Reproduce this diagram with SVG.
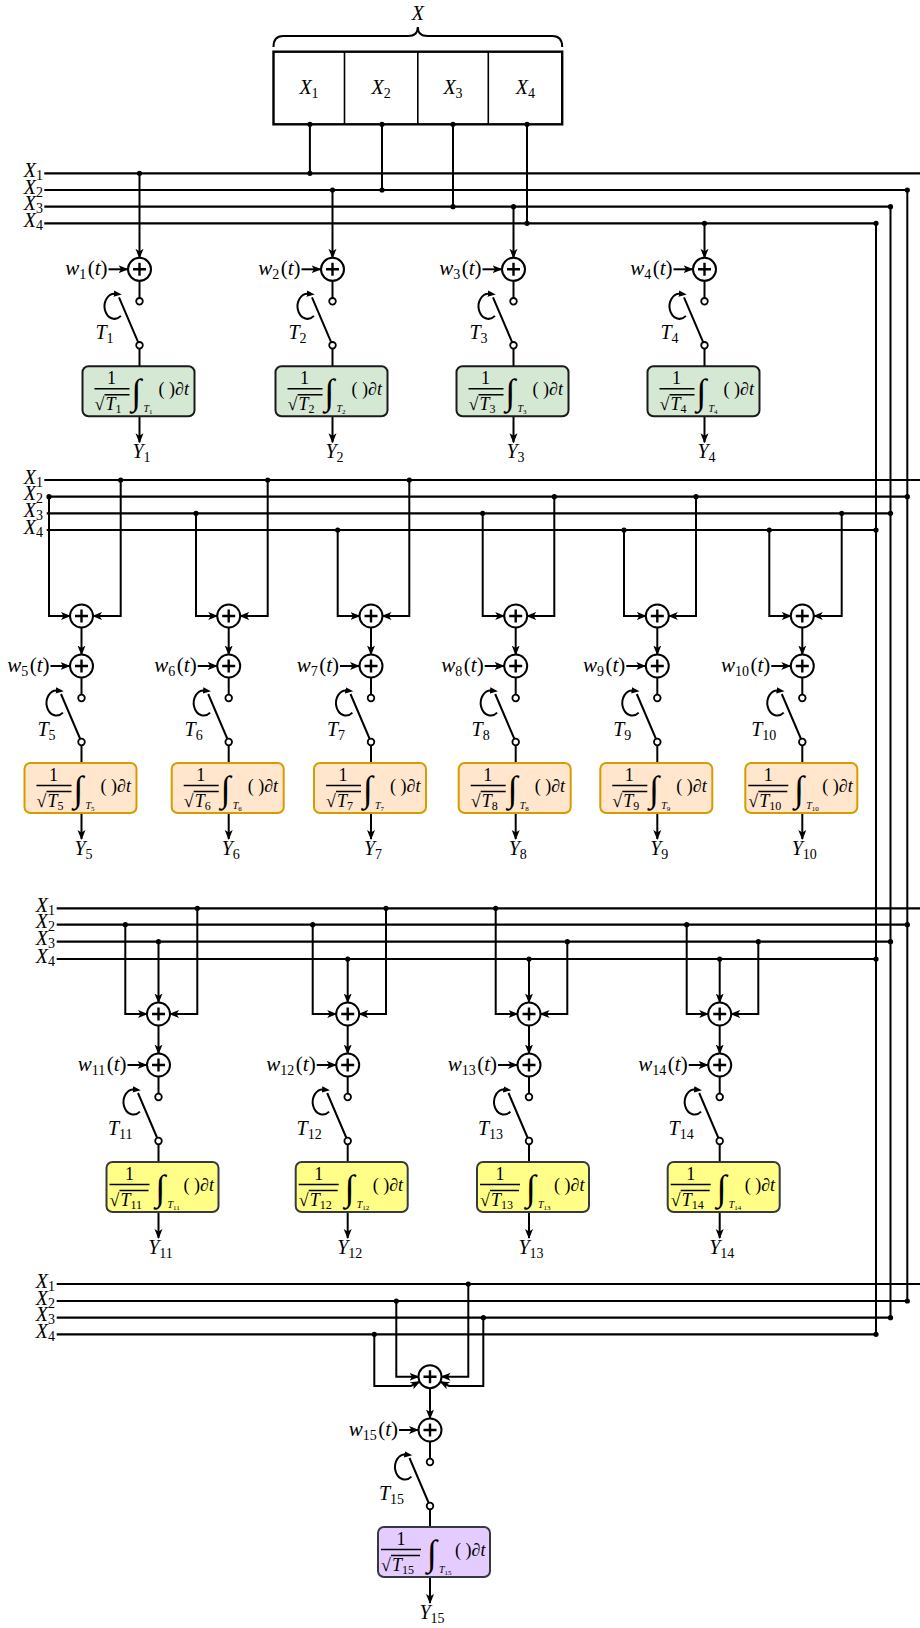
<svg xmlns="http://www.w3.org/2000/svg" xmlns:xlink="http://www.w3.org/1999/xlink" width="920" height="1628" viewBox="0 0 920 1628">
<style>
.ln{fill:none;stroke:#000;stroke-width:2}
.bus{fill:none;stroke:#000;stroke-width:2.2}
.ar{fill:none;stroke:#000;stroke-width:2;marker-end:url(#ah)}
.t{font-family:"Liberation Serif",serif;font-size:20px;fill:#000}
.w{font-size:21px}
.m{font-family:"Liberation Serif",serif;font-size:18px;fill:#000}
.i{font-style:italic}
.n{font-style:normal}
.s{font-size:14px}
.ss{font-size:12px}
.sm{font-family:"Liberation Serif",serif;font-size:10px;font-style:italic}
.sm2{font-size:7px;font-style:normal}
.int{font-family:"Liberation Serif",serif;font-size:36px;font-style:italic}
.g1{fill:#d5e8d4;stroke:#1a1a1a;stroke-width:2}
.g2{fill:#ffe6cc;stroke:#d79b00;stroke-width:2}
.g3{fill:#ffff88;stroke:#36393d;stroke-width:2}
.g4{fill:#e5ccff;stroke:#36393d;stroke-width:2}
.vin{stroke:#000;stroke-width:1.4;fill:none}
.dot{fill:#000}
</style>
<defs>
<marker id="ah" viewBox="0 0 10 10" refX="9" refY="5" markerWidth="10" markerHeight="10" markerUnits="userSpaceOnUse" orient="auto"><path d="M0,1L10,5L0,9L2.5,5z" fill="#000"/></marker>
<marker id="ah2" viewBox="0 0 10 10" refX="2" refY="5" markerWidth="8" markerHeight="8" markerUnits="userSpaceOnUse" orient="auto"><path d="M0,1L10,5L0,9z" fill="#000"/></marker>
<g id="plus">
<circle r="11.5" fill="#fff" stroke="#000" stroke-width="2"/>
<path d="M-6.5,0H6.5M0,-6.5V6.5" stroke="#000" stroke-width="2.4"/>
</g>
<g id="sw">
<use href="#plus"/>
<path class="ln" d="M0,11.5V28.7M0,76L-20.5,28M0,79.3V97"/>
<circle cx="0" cy="32" r="3.3" fill="#fff" stroke="#000" stroke-width="1.8"/>
<circle cx="0" cy="76" r="3.3" fill="#fff" stroke="#000" stroke-width="1.8"/>
<path class="ln" d="M-18.6,46.6A10,12.5 0 1 1 -24.1,24.55" marker-end="url(#ah2)"/>
<path class="ar" d="M0,147V173"/>
<path class="ar" d="M-31,0H-12"/>
</g>
</defs>
<rect width="920" height="1628" fill="#fff"/>

<g id="X">
<path class="ln" d="M273.5,47Q273.5,36 283,36H408Q417.8,36 417.8,27Q417.8,36 427.6,36H552.5Q562.2,36 562.2,47"/>
<text class="t i" x="417.8" y="20" text-anchor="middle">X</text>
<rect x="273.5" y="51.7" width="288.7" height="72.6" fill="#fff" stroke="#000" stroke-width="2.4"/>
<path d="M344.5,51.7V124.3M417.8,51.7V124.3M488.3,51.7V124.3" stroke="#000" stroke-width="1.6"/>
<text class="t" x="309" y="94" text-anchor="middle"><tspan class="i">X</tspan><tspan class="s" dy="4">1</tspan></text>
<text class="t" x="381.2" y="94" text-anchor="middle"><tspan class="i">X</tspan><tspan class="s" dy="4">2</tspan></text>
<text class="t" x="453" y="94" text-anchor="middle"><tspan class="i">X</tspan><tspan class="s" dy="4">3</tspan></text>
<text class="t" x="525.3" y="94" text-anchor="middle"><tspan class="i">X</tspan><tspan class="s" dy="4">4</tspan></text>
</g>

<g id="buslabels">
<text class="t" x="43" y="176.8" text-anchor="end"><tspan class="i">X</tspan><tspan class="s" dy="3">1</tspan></text>
<text class="t" x="43" y="193.5" text-anchor="end"><tspan class="i">X</tspan><tspan class="s" dy="3">2</tspan></text>
<text class="t" x="43" y="210.2" text-anchor="end"><tspan class="i">X</tspan><tspan class="s" dy="3">3</tspan></text>
<text class="t" x="43" y="226.8" text-anchor="end"><tspan class="i">X</tspan><tspan class="s" dy="3">4</tspan></text>
<text class="t" x="43" y="483.5" text-anchor="end"><tspan class="i">X</tspan><tspan class="s" dy="3">1</tspan></text>
<text class="t" x="43" y="500.2" text-anchor="end"><tspan class="i">X</tspan><tspan class="s" dy="3">2</tspan></text>
<text class="t" x="43" y="516.8" text-anchor="end"><tspan class="i">X</tspan><tspan class="s" dy="3">3</tspan></text>
<text class="t" x="43" y="533.5" text-anchor="end"><tspan class="i">X</tspan><tspan class="s" dy="3">4</tspan></text>
<text class="t" x="55" y="911.8" text-anchor="end"><tspan class="i">X</tspan><tspan class="s" dy="3">1</tspan></text>
<text class="t" x="55" y="928.2" text-anchor="end"><tspan class="i">X</tspan><tspan class="s" dy="3">2</tspan></text>
<text class="t" x="55" y="945.2" text-anchor="end"><tspan class="i">X</tspan><tspan class="s" dy="3">3</tspan></text>
<text class="t" x="55" y="962.5" text-anchor="end"><tspan class="i">X</tspan><tspan class="s" dy="3">4</tspan></text>
<text class="t" x="55" y="1287.5" text-anchor="end"><tspan class="i">X</tspan><tspan class="s" dy="3">1</tspan></text>
<text class="t" x="55" y="1304.5" text-anchor="end"><tspan class="i">X</tspan><tspan class="s" dy="3">2</tspan></text>
<text class="t" x="55" y="1321.2" text-anchor="end"><tspan class="i">X</tspan><tspan class="s" dy="3">3</tspan></text>
<text class="t" x="55" y="1337.8" text-anchor="end"><tspan class="i">X</tspan><tspan class="s" dy="3">4</tspan></text>
</g>

<g id="connectors">
<path class="bus" d="M44.3,173.3H920M44.3,190H907.3M44.3,206.7H890.5M44.3,223.3H876"/>
<path class="bus" d="M44.3,480H920M49,496.7H907.3M46.7,513.3H890.5M46.7,530H876"/>
<path class="bus" d="M56.7,908.3H920M56.7,924.7H907.3M56.7,941.7H890.5M56.7,959H876"/>
<path class="bus" d="M56.7,1284H920M56.7,1301H907.3M56.7,1317.7H890.5M56.7,1334.3H876"/>
<path class="ln" d="M907.3,190V1301M890.5,206.7V1317.7M876,223.3V1334.3"/>
<path class="ln" d="M309.9,124.3V173.3M382,124.3V190M453,124.3V206.7M527,124.3V223.3"/>
<path class="ar" d="M139.5,173.3V257.8"/>
<path class="ar" d="M332.5,190V257.8"/>
<path class="ar" d="M513.5,206.7V257.8"/>
<path class="ar" d="M704.5,223.3V257.8"/>
<path class="ar" d="M49,496.7V616H70"/>
<path class="ar" d="M120.7,480V616H93"/>
<path class="ar" d="M196,513.3V616H217.2"/>
<path class="ar" d="M267.7,480V616H240.2"/>
<path class="ar" d="M337.7,530V616H359.5"/>
<path class="ar" d="M409.3,480V616H382.5"/>
<path class="ar" d="M482.7,513.3V616H504.2"/>
<path class="ar" d="M554.3,496.7V616H527.2"/>
<path class="ar" d="M624,530V616H645.8"/>
<path class="ar" d="M696,496.7V616H668.8"/>
<path class="ar" d="M769.3,530V616H790.8"/>
<path class="ar" d="M841.7,513.3V616H813.8"/>
<path class="ar" d="M81.5,627.5V654.5"/>
<path class="ar" d="M228.7,627.5V654.5"/>
<path class="ar" d="M371,627.5V654.5"/>
<path class="ar" d="M515.7,627.5V654.5"/>
<path class="ar" d="M657.3,627.5V654.5"/>
<path class="ar" d="M802.3,627.5V654.5"/>
<path class="ar" d="M125.3,924.7V1014H147"/>
<path class="ar" d="M158.5,941.7V1002.5"/>
<path class="ar" d="M197.3,908.3V1014H170"/>
<path class="ar" d="M312.7,924.7V1014H336.2"/>
<path class="ar" d="M347.7,959V1002.5"/>
<path class="ar" d="M386,908.3V1014H359.2"/>
<path class="ar" d="M495.7,908.3V1014H517.5"/>
<path class="ar" d="M529,959V1002.5"/>
<path class="ar" d="M567.3,941.7V1014H540.5"/>
<path class="ar" d="M686.7,924.7V1014H708.2"/>
<path class="ar" d="M719.7,959V1002.5"/>
<path class="ar" d="M758.3,941.7V1014H731.2"/>
<path class="ar" d="M158.5,1025.5V1053.5"/>
<path class="ar" d="M347.7,1025.5V1053.5"/>
<path class="ar" d="M529,1025.5V1053.5"/>
<path class="ar" d="M719.7,1025.5V1053.5"/>
<path class="ar" d="M374.3,1334.3V1386H411L419.6,1381.6"/>
<path class="ar" d="M396.3,1301V1376.7H418.5"/>
<path class="ar" d="M468.3,1284V1376.7H441.5"/>
<path class="ar" d="M483.3,1317.7V1386H449L440.4,1381.6"/>
<path class="ar" d="M430,1388.2V1418.5"/>
<g class="dot">
<circle cx="139.5" cy="173.3" r="2.6"/><circle cx="332.5" cy="190" r="2.6"/><circle cx="513.5" cy="206.7" r="2.6"/><circle cx="704.5" cy="223.3" r="2.6"/>
<circle cx="309.9" cy="124.3" r="2.6"/><circle cx="382" cy="124.3" r="2.6"/><circle cx="453" cy="124.3" r="2.6"/><circle cx="527" cy="124.3" r="2.6"/>
<circle cx="309.9" cy="173.3" r="2.6"/><circle cx="382" cy="190" r="2.6"/><circle cx="453" cy="206.7" r="2.6"/><circle cx="527" cy="223.3" r="2.6"/>
<circle cx="907.3" cy="190" r="2.6"/><circle cx="890.5" cy="206.7" r="2.6"/><circle cx="876" cy="223.3" r="2.6"/>
<circle cx="49" cy="496.7" r="2.6"/><circle cx="120.7" cy="480" r="2.6"/><circle cx="196" cy="513.3" r="2.6"/><circle cx="267.7" cy="480" r="2.6"/>
<circle cx="337.7" cy="530" r="2.6"/><circle cx="409.3" cy="480" r="2.6"/><circle cx="482.7" cy="513.3" r="2.6"/><circle cx="554.3" cy="496.7" r="2.6"/>
<circle cx="624" cy="530" r="2.6"/><circle cx="696" cy="496.7" r="2.6"/><circle cx="769.3" cy="530" r="2.6"/><circle cx="841.7" cy="513.3" r="2.6"/>
<circle cx="907.3" cy="496.7" r="2.6"/><circle cx="890.5" cy="513.3" r="2.6"/><circle cx="876" cy="530" r="2.6"/>
<circle cx="125.3" cy="924.7" r="2.6"/><circle cx="158.5" cy="941.7" r="2.6"/><circle cx="197.3" cy="908.3" r="2.6"/>
<circle cx="312.7" cy="924.7" r="2.6"/><circle cx="347.7" cy="959" r="2.6"/><circle cx="386" cy="908.3" r="2.6"/>
<circle cx="495.7" cy="908.3" r="2.6"/><circle cx="529" cy="959" r="2.6"/><circle cx="567.3" cy="941.7" r="2.6"/>
<circle cx="686.7" cy="924.7" r="2.6"/><circle cx="719.7" cy="959" r="2.6"/><circle cx="758.3" cy="941.7" r="2.6"/>
<circle cx="907.3" cy="924.7" r="2.6"/><circle cx="890.5" cy="941.7" r="2.6"/><circle cx="876" cy="959" r="2.6"/>
<circle cx="374.3" cy="1334.3" r="2.6"/><circle cx="396.3" cy="1301" r="2.6"/><circle cx="468.3" cy="1284" r="2.6"/><circle cx="483.3" cy="1317.7" r="2.6"/>
<circle cx="907.3" cy="1301" r="2.6"/><circle cx="890.5" cy="1317.7" r="2.6"/><circle cx="876" cy="1334.3" r="2.6"/>
</g>
</g>

<g id="m5" transform="translate(81.5,616)"><use href="#plus"/></g>
<g id="m6" transform="translate(228.7,616)"><use href="#plus"/></g>
<g id="m7" transform="translate(371,616)"><use href="#plus"/></g>
<g id="m8" transform="translate(515.7,616)"><use href="#plus"/></g>
<g id="m9" transform="translate(657.3,616)"><use href="#plus"/></g>
<g id="m10" transform="translate(802.3,616)"><use href="#plus"/></g>
<g id="m11" transform="translate(158.5,1014)"><use href="#plus"/></g>
<g id="m12" transform="translate(347.7,1014)"><use href="#plus"/></g>
<g id="m13" transform="translate(529,1014)"><use href="#plus"/></g>
<g id="m14" transform="translate(719.7,1014)"><use href="#plus"/></g>
<g id="m15" transform="translate(430,1376.7)"><use href="#plus"/></g>

<g id="n1" transform="translate(139.5,269.3)"><use href="#sw"/>
<text class="t w" x="-32" y="6" text-anchor="end"><tspan class="i">w</tspan><tspan class="s" dy="4">1</tspan><tspan dy="-4" dx="1.5">(</tspan><tspan class="i">t</tspan>)</text>
<text class="t" x="-26" y="70" text-anchor="end"><tspan class="i">T</tspan><tspan class="s" dy="4">1</tspan></text>
<g transform="translate(-57,97)"><rect class="g1" width="112" height="50" rx="6"/>
<text class="m" x="29" y="18" text-anchor="middle">1</text><path class="vin" d="M12,22.5H47M22,28.5H47"/><text class="m" x="12" y="44">√</text>
<text class="m i" x="23" y="44">T<tspan class="ss n" dy="3">1</tspan></text><text class="int" x="49" y="38">∫</text>
<text class="sm" x="61" y="46">T<tspan class="sm2" dy="2">1</tspan></text><text class="m" x="76" y="29">( )<tspan class="i">∂t</tspan></text></g>
<text class="t" x="2" y="189" text-anchor="middle"><tspan class="i">Y</tspan><tspan class="s" dy="4">1</tspan></text></g>

<g id="n2" transform="translate(332.5,269.3)"><use href="#sw"/>
<text class="t w" x="-32" y="6" text-anchor="end"><tspan class="i">w</tspan><tspan class="s" dy="4">2</tspan><tspan dy="-4" dx="1.5">(</tspan><tspan class="i">t</tspan>)</text>
<text class="t" x="-26" y="70" text-anchor="end"><tspan class="i">T</tspan><tspan class="s" dy="4">2</tspan></text>
<g transform="translate(-57,97)"><rect class="g1" width="112" height="50" rx="6"/>
<text class="m" x="29" y="18" text-anchor="middle">1</text><path class="vin" d="M12,22.5H47M22,28.5H47"/><text class="m" x="12" y="44">√</text>
<text class="m i" x="23" y="44">T<tspan class="ss n" dy="3">2</tspan></text><text class="int" x="49" y="38">∫</text>
<text class="sm" x="61" y="46">T<tspan class="sm2" dy="2">2</tspan></text><text class="m" x="76" y="29">( )<tspan class="i">∂t</tspan></text></g>
<text class="t" x="2" y="189" text-anchor="middle"><tspan class="i">Y</tspan><tspan class="s" dy="4">2</tspan></text></g>

<g id="n3" transform="translate(513.5,269.3)"><use href="#sw"/>
<text class="t w" x="-32" y="6" text-anchor="end"><tspan class="i">w</tspan><tspan class="s" dy="4">3</tspan><tspan dy="-4" dx="1.5">(</tspan><tspan class="i">t</tspan>)</text>
<text class="t" x="-26" y="70" text-anchor="end"><tspan class="i">T</tspan><tspan class="s" dy="4">3</tspan></text>
<g transform="translate(-57,97)"><rect class="g1" width="112" height="50" rx="6"/>
<text class="m" x="29" y="18" text-anchor="middle">1</text><path class="vin" d="M12,22.5H47M22,28.5H47"/><text class="m" x="12" y="44">√</text>
<text class="m i" x="23" y="44">T<tspan class="ss n" dy="3">3</tspan></text><text class="int" x="49" y="38">∫</text>
<text class="sm" x="61" y="46">T<tspan class="sm2" dy="2">3</tspan></text><text class="m" x="76" y="29">( )<tspan class="i">∂t</tspan></text></g>
<text class="t" x="2" y="189" text-anchor="middle"><tspan class="i">Y</tspan><tspan class="s" dy="4">3</tspan></text></g>

<g id="n4" transform="translate(704.5,269.3)"><use href="#sw"/>
<text class="t w" x="-32" y="6" text-anchor="end"><tspan class="i">w</tspan><tspan class="s" dy="4">4</tspan><tspan dy="-4" dx="1.5">(</tspan><tspan class="i">t</tspan>)</text>
<text class="t" x="-26" y="70" text-anchor="end"><tspan class="i">T</tspan><tspan class="s" dy="4">4</tspan></text>
<g transform="translate(-57,97)"><rect class="g1" width="112" height="50" rx="6"/>
<text class="m" x="29" y="18" text-anchor="middle">1</text><path class="vin" d="M12,22.5H47M22,28.5H47"/><text class="m" x="12" y="44">√</text>
<text class="m i" x="23" y="44">T<tspan class="ss n" dy="3">4</tspan></text><text class="int" x="49" y="38">∫</text>
<text class="sm" x="61" y="46">T<tspan class="sm2" dy="2">4</tspan></text><text class="m" x="76" y="29">( )<tspan class="i">∂t</tspan></text></g>
<text class="t" x="2" y="189" text-anchor="middle"><tspan class="i">Y</tspan><tspan class="s" dy="4">4</tspan></text></g>

<g id="n5" transform="translate(81.5,666)"><use href="#sw"/>
<text class="t w" x="-32" y="6" text-anchor="end"><tspan class="i">w</tspan><tspan class="s" dy="4">5</tspan><tspan dy="-4" dx="1.5">(</tspan><tspan class="i">t</tspan>)</text>
<text class="t" x="-26" y="70" text-anchor="end"><tspan class="i">T</tspan><tspan class="s" dy="4">5</tspan></text>
<g transform="translate(-57,97)"><rect class="g2" width="112" height="50" rx="6"/>
<text class="m" x="29" y="18" text-anchor="middle">1</text><path class="vin" d="M12,22.5H47M22,28.5H47"/><text class="m" x="12" y="44">√</text>
<text class="m i" x="23" y="44">T<tspan class="ss n" dy="3">5</tspan></text><text class="int" x="49" y="38">∫</text>
<text class="sm" x="61" y="46">T<tspan class="sm2" dy="2">5</tspan></text><text class="m" x="76" y="29">( )<tspan class="i">∂t</tspan></text></g>
<text class="t" x="2" y="189" text-anchor="middle"><tspan class="i">Y</tspan><tspan class="s" dy="4">5</tspan></text></g>

<g id="n6" transform="translate(228.7,666)"><use href="#sw"/>
<text class="t w" x="-32" y="6" text-anchor="end"><tspan class="i">w</tspan><tspan class="s" dy="4">6</tspan><tspan dy="-4" dx="1.5">(</tspan><tspan class="i">t</tspan>)</text>
<text class="t" x="-26" y="70" text-anchor="end"><tspan class="i">T</tspan><tspan class="s" dy="4">6</tspan></text>
<g transform="translate(-57,97)"><rect class="g2" width="112" height="50" rx="6"/>
<text class="m" x="29" y="18" text-anchor="middle">1</text><path class="vin" d="M12,22.5H47M22,28.5H47"/><text class="m" x="12" y="44">√</text>
<text class="m i" x="23" y="44">T<tspan class="ss n" dy="3">6</tspan></text><text class="int" x="49" y="38">∫</text>
<text class="sm" x="61" y="46">T<tspan class="sm2" dy="2">6</tspan></text><text class="m" x="76" y="29">( )<tspan class="i">∂t</tspan></text></g>
<text class="t" x="2" y="189" text-anchor="middle"><tspan class="i">Y</tspan><tspan class="s" dy="4">6</tspan></text></g>

<g id="n7" transform="translate(371,666)"><use href="#sw"/>
<text class="t w" x="-32" y="6" text-anchor="end"><tspan class="i">w</tspan><tspan class="s" dy="4">7</tspan><tspan dy="-4" dx="1.5">(</tspan><tspan class="i">t</tspan>)</text>
<text class="t" x="-26" y="70" text-anchor="end"><tspan class="i">T</tspan><tspan class="s" dy="4">7</tspan></text>
<g transform="translate(-57,97)"><rect class="g2" width="112" height="50" rx="6"/>
<text class="m" x="29" y="18" text-anchor="middle">1</text><path class="vin" d="M12,22.5H47M22,28.5H47"/><text class="m" x="12" y="44">√</text>
<text class="m i" x="23" y="44">T<tspan class="ss n" dy="3">7</tspan></text><text class="int" x="49" y="38">∫</text>
<text class="sm" x="61" y="46">T<tspan class="sm2" dy="2">7</tspan></text><text class="m" x="76" y="29">( )<tspan class="i">∂t</tspan></text></g>
<text class="t" x="2" y="189" text-anchor="middle"><tspan class="i">Y</tspan><tspan class="s" dy="4">7</tspan></text></g>

<g id="n8" transform="translate(515.7,666)"><use href="#sw"/>
<text class="t w" x="-32" y="6" text-anchor="end"><tspan class="i">w</tspan><tspan class="s" dy="4">8</tspan><tspan dy="-4" dx="1.5">(</tspan><tspan class="i">t</tspan>)</text>
<text class="t" x="-26" y="70" text-anchor="end"><tspan class="i">T</tspan><tspan class="s" dy="4">8</tspan></text>
<g transform="translate(-57,97)"><rect class="g2" width="112" height="50" rx="6"/>
<text class="m" x="29" y="18" text-anchor="middle">1</text><path class="vin" d="M12,22.5H47M22,28.5H47"/><text class="m" x="12" y="44">√</text>
<text class="m i" x="23" y="44">T<tspan class="ss n" dy="3">8</tspan></text><text class="int" x="49" y="38">∫</text>
<text class="sm" x="61" y="46">T<tspan class="sm2" dy="2">8</tspan></text><text class="m" x="76" y="29">( )<tspan class="i">∂t</tspan></text></g>
<text class="t" x="2" y="189" text-anchor="middle"><tspan class="i">Y</tspan><tspan class="s" dy="4">8</tspan></text></g>

<g id="n9" transform="translate(657.3,666)"><use href="#sw"/>
<text class="t w" x="-32" y="6" text-anchor="end"><tspan class="i">w</tspan><tspan class="s" dy="4">9</tspan><tspan dy="-4" dx="1.5">(</tspan><tspan class="i">t</tspan>)</text>
<text class="t" x="-26" y="70" text-anchor="end"><tspan class="i">T</tspan><tspan class="s" dy="4">9</tspan></text>
<g transform="translate(-57,97)"><rect class="g2" width="112" height="50" rx="6"/>
<text class="m" x="29" y="18" text-anchor="middle">1</text><path class="vin" d="M12,22.5H47M22,28.5H47"/><text class="m" x="12" y="44">√</text>
<text class="m i" x="23" y="44">T<tspan class="ss n" dy="3">9</tspan></text><text class="int" x="49" y="38">∫</text>
<text class="sm" x="61" y="46">T<tspan class="sm2" dy="2">9</tspan></text><text class="m" x="76" y="29">( )<tspan class="i">∂t</tspan></text></g>
<text class="t" x="2" y="189" text-anchor="middle"><tspan class="i">Y</tspan><tspan class="s" dy="4">9</tspan></text></g>

<g id="n10" transform="translate(802.3,666)"><use href="#sw"/>
<text class="t w" x="-32" y="6" text-anchor="end"><tspan class="i">w</tspan><tspan class="s" dy="4">10</tspan><tspan dy="-4" dx="1.5">(</tspan><tspan class="i">t</tspan>)</text>
<text class="t" x="-26" y="70" text-anchor="end"><tspan class="i">T</tspan><tspan class="s" dy="4">10</tspan></text>
<g transform="translate(-57,97)"><rect class="g2" width="112" height="50" rx="6"/>
<text class="m" x="23" y="18" text-anchor="middle">1</text><path class="vin" d="M3,22.5H43M13,28.5H42"/><text class="m" x="3" y="44">√</text>
<text class="m i" x="14" y="44">T<tspan class="ss n" dy="3">10</tspan></text><text class="int" x="49" y="38">∫</text>
<text class="sm" x="61" y="46">T<tspan class="sm2" dy="2">10</tspan></text><text class="m" x="77" y="29">( )<tspan class="i">∂t</tspan></text></g>
<text class="t" x="2" y="189" text-anchor="middle"><tspan class="i">Y</tspan><tspan class="s" dy="4">10</tspan></text></g>

<g id="n11" transform="translate(158.5,1065)"><use href="#sw"/>
<text class="t w" x="-32" y="6" text-anchor="end"><tspan class="i">w</tspan><tspan class="s" dy="4">11</tspan><tspan dy="-4" dx="1.5">(</tspan><tspan class="i">t</tspan>)</text>
<text class="t" x="-26" y="70" text-anchor="end"><tspan class="i">T</tspan><tspan class="s" dy="4">11</tspan></text>
<g transform="translate(-52,97)"><rect class="g3" width="112" height="50" rx="6"/>
<text class="m" x="23" y="18" text-anchor="middle">1</text><path class="vin" d="M3,22.5H43M13,28.5H42"/><text class="m" x="3" y="44">√</text>
<text class="m i" x="14" y="44">T<tspan class="ss n" dy="3">11</tspan></text><text class="int" x="49" y="38">∫</text>
<text class="sm" x="61" y="46">T<tspan class="sm2" dy="2">11</tspan></text><text class="m" x="77" y="29">( )<tspan class="i">∂t</tspan></text></g>
<text class="t" x="2" y="189" text-anchor="middle"><tspan class="i">Y</tspan><tspan class="s" dy="4">11</tspan></text></g>

<g id="n12" transform="translate(347.7,1065)"><use href="#sw"/>
<text class="t w" x="-32" y="6" text-anchor="end"><tspan class="i">w</tspan><tspan class="s" dy="4">12</tspan><tspan dy="-4" dx="1.5">(</tspan><tspan class="i">t</tspan>)</text>
<text class="t" x="-26" y="70" text-anchor="end"><tspan class="i">T</tspan><tspan class="s" dy="4">12</tspan></text>
<g transform="translate(-52,97)"><rect class="g3" width="112" height="50" rx="6"/>
<text class="m" x="23" y="18" text-anchor="middle">1</text><path class="vin" d="M3,22.5H43M13,28.5H42"/><text class="m" x="3" y="44">√</text>
<text class="m i" x="14" y="44">T<tspan class="ss n" dy="3">12</tspan></text><text class="int" x="49" y="38">∫</text>
<text class="sm" x="61" y="46">T<tspan class="sm2" dy="2">12</tspan></text><text class="m" x="77" y="29">( )<tspan class="i">∂t</tspan></text></g>
<text class="t" x="2" y="189" text-anchor="middle"><tspan class="i">Y</tspan><tspan class="s" dy="4">12</tspan></text></g>

<g id="n13" transform="translate(529,1065)"><use href="#sw"/>
<text class="t w" x="-32" y="6" text-anchor="end"><tspan class="i">w</tspan><tspan class="s" dy="4">13</tspan><tspan dy="-4" dx="1.5">(</tspan><tspan class="i">t</tspan>)</text>
<text class="t" x="-26" y="70" text-anchor="end"><tspan class="i">T</tspan><tspan class="s" dy="4">13</tspan></text>
<g transform="translate(-52,97)"><rect class="g3" width="112" height="50" rx="6"/>
<text class="m" x="23" y="18" text-anchor="middle">1</text><path class="vin" d="M3,22.5H43M13,28.5H42"/><text class="m" x="3" y="44">√</text>
<text class="m i" x="14" y="44">T<tspan class="ss n" dy="3">13</tspan></text><text class="int" x="49" y="38">∫</text>
<text class="sm" x="61" y="46">T<tspan class="sm2" dy="2">13</tspan></text><text class="m" x="77" y="29">( )<tspan class="i">∂t</tspan></text></g>
<text class="t" x="2" y="189" text-anchor="middle"><tspan class="i">Y</tspan><tspan class="s" dy="4">13</tspan></text></g>

<g id="n14" transform="translate(719.7,1065)"><use href="#sw"/>
<text class="t w" x="-32" y="6" text-anchor="end"><tspan class="i">w</tspan><tspan class="s" dy="4">14</tspan><tspan dy="-4" dx="1.5">(</tspan><tspan class="i">t</tspan>)</text>
<text class="t" x="-26" y="70" text-anchor="end"><tspan class="i">T</tspan><tspan class="s" dy="4">14</tspan></text>
<g transform="translate(-52,97)"><rect class="g3" width="112" height="50" rx="6"/>
<text class="m" x="23" y="18" text-anchor="middle">1</text><path class="vin" d="M3,22.5H43M13,28.5H42"/><text class="m" x="3" y="44">√</text>
<text class="m i" x="14" y="44">T<tspan class="ss n" dy="3">14</tspan></text><text class="int" x="49" y="38">∫</text>
<text class="sm" x="61" y="46">T<tspan class="sm2" dy="2">14</tspan></text><text class="m" x="77" y="29">( )<tspan class="i">∂t</tspan></text></g>
<text class="t" x="2" y="189" text-anchor="middle"><tspan class="i">Y</tspan><tspan class="s" dy="4">14</tspan></text></g>

<g id="n15" transform="translate(430,1430)"><use href="#sw"/>
<text class="t w" x="-32" y="6" text-anchor="end"><tspan class="i">w</tspan><tspan class="s" dy="4">15</tspan><tspan dy="-4" dx="1.5">(</tspan><tspan class="i">t</tspan>)</text>
<text class="t" x="-26" y="70" text-anchor="end"><tspan class="i">T</tspan><tspan class="s" dy="4">15</tspan></text>
<g transform="translate(-52,97)"><rect class="g4" width="112" height="50" rx="6"/>
<text class="m" x="23" y="18" text-anchor="middle">1</text><path class="vin" d="M3,22.5H43M13,28.5H42"/><text class="m" x="3" y="44">√</text>
<text class="m i" x="14" y="44">T<tspan class="ss n" dy="3">15</tspan></text><text class="int" x="49" y="38">∫</text>
<text class="sm" x="61" y="46">T<tspan class="sm2" dy="2">15</tspan></text><text class="m" x="77" y="29">( )<tspan class="i">∂t</tspan></text></g>
<text class="t" x="2" y="189" text-anchor="middle"><tspan class="i">Y</tspan><tspan class="s" dy="4">15</tspan></text></g>
</svg>
